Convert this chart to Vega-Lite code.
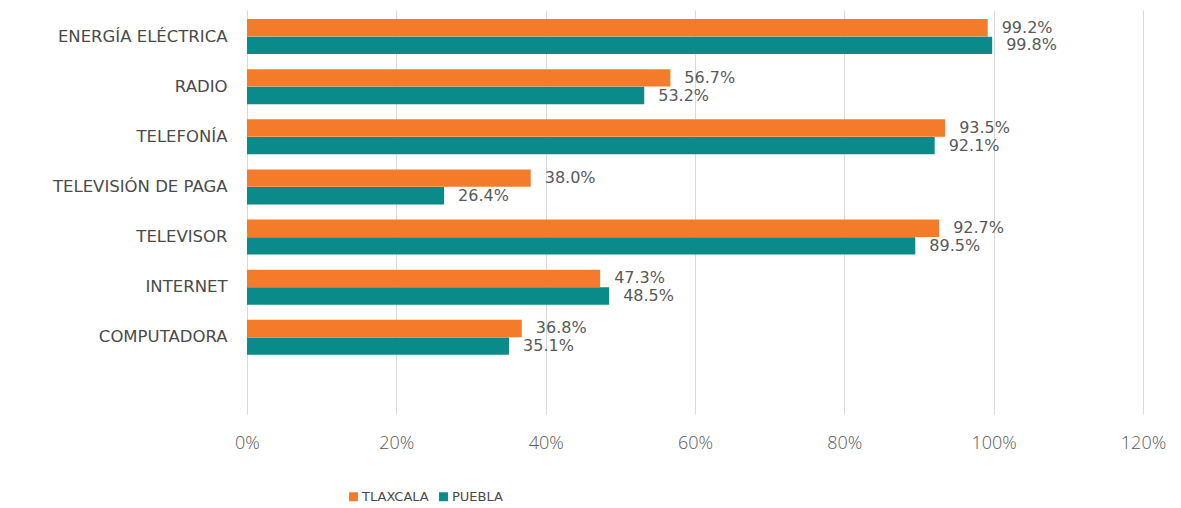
{
  "$schema": "https://vega.github.io/schema/vega-lite/v6.json",
  "width": 896,
  "height": 404,
  "autosize": {"type": "none"},
  "padding": {"left": 247, "top": 10, "right": 38, "bottom": 94},
  "background": "white",
  "config": {"view": {"stroke": null}, "font": "Lato"},
  "data": {
    "values": [
      {"cat": "Energía eléctrica", "serie": "Tlaxcala", "v": 0.992},
      {"cat": "Energía eléctrica", "serie": "Puebla", "v": 0.998},
      {"cat": "Radio", "serie": "Tlaxcala", "v": 0.567},
      {"cat": "Radio", "serie": "Puebla", "v": 0.532},
      {"cat": "Telefonía", "serie": "Tlaxcala", "v": 0.935},
      {"cat": "Telefonía", "serie": "Puebla", "v": 0.921},
      {"cat": "Televisión de paga", "serie": "Tlaxcala", "v": 0.38},
      {"cat": "Televisión de paga", "serie": "Puebla", "v": 0.264},
      {"cat": "Televisor", "serie": "Tlaxcala", "v": 0.927},
      {"cat": "Televisor", "serie": "Puebla", "v": 0.895},
      {"cat": "Internet", "serie": "Tlaxcala", "v": 0.473},
      {"cat": "Internet", "serie": "Puebla", "v": 0.485},
      {"cat": "Computadora", "serie": "Tlaxcala", "v": 0.368},
      {"cat": "Computadora", "serie": "Puebla", "v": 0.351}
    ]
  },
  "encoding": {
    "y": {
      "field": "cat",
      "type": "nominal",
      "scale": {
        "domain": ["Energía eléctrica", "Radio", "Telefonía", "Televisión de paga", "Televisor", "Internet", "Computadora", " "],
        "paddingInner": 0.3,
        "paddingOuter": 0.18
      },
      "axis": {
        "title": null,
        "ticks": false,
        "domain": true,
        "domainColor": "#d9d9d9",
        "labelExpr": "upper(datum.label)",
        "labelFont": "DejaVu Sans",
        "labelFontSize": 16.5,
        "labelColor": "#4a4a4a",
        "labelPadding": 20
      }
    },
    "x": {
      "field": "v",
      "type": "quantitative",
      "scale": {"domain": [0, 1.2], "nice": false},
      "axis": {
        "title": null,
        "format": "%",
        "values": [0, 0.2, 0.4, 0.6, 0.8, 1.0, 1.2],
        "grid": true,
        "gridColor": "#d9d9d9",
        "domain": false,
        "ticks": false,
        "labelFlush": false,
        "labelFont": "Open Sans",
        "labelFontWeight": 300,
        "labelFontSize": 18,
        "labelColor": "#595959",
        "labelPadding": 20
      }
    },
    "yOffset": {
      "field": "serie",
      "type": "nominal",
      "sort": ["Tlaxcala", "Puebla"],
      "scale": {"paddingInner": 0.02}
    }
  },
  "layer": [
    {
      "mark": {"type": "bar"},
      "encoding": {
        "color": {
          "field": "serie",
          "type": "nominal",
          "sort": ["Tlaxcala", "Puebla"],
          "scale": {"domain": ["Tlaxcala", "Puebla"], "range": ["#F47B2A", "#0A8B89"]},
          "legend": {
            "title": null,
            "orient": "none",
            "direction": "horizontal",
            "legendX": 100,
            "legendY": 480,
            "symbolType": "square",
            "symbolSize": 80,
            "labelExpr": "upper(datum.label)",
            "labelFont": "DejaVu Sans",
            "labelFontSize": 13,
            "labelColor": "#4a4a4a",
            "labelOffset": 2,
            "columnPadding": 8
          }
        }
      }
    },
    {
      "mark": {"type": "text", "align": "left", "baseline": "middle", "dx": 14, "fontSize": 16, "color": "#595959", "font": "DejaVu Sans"},
      "encoding": {
        "text": {"field": "v", "type": "quantitative", "format": ".1%"}
      }
    }
  ]
}
